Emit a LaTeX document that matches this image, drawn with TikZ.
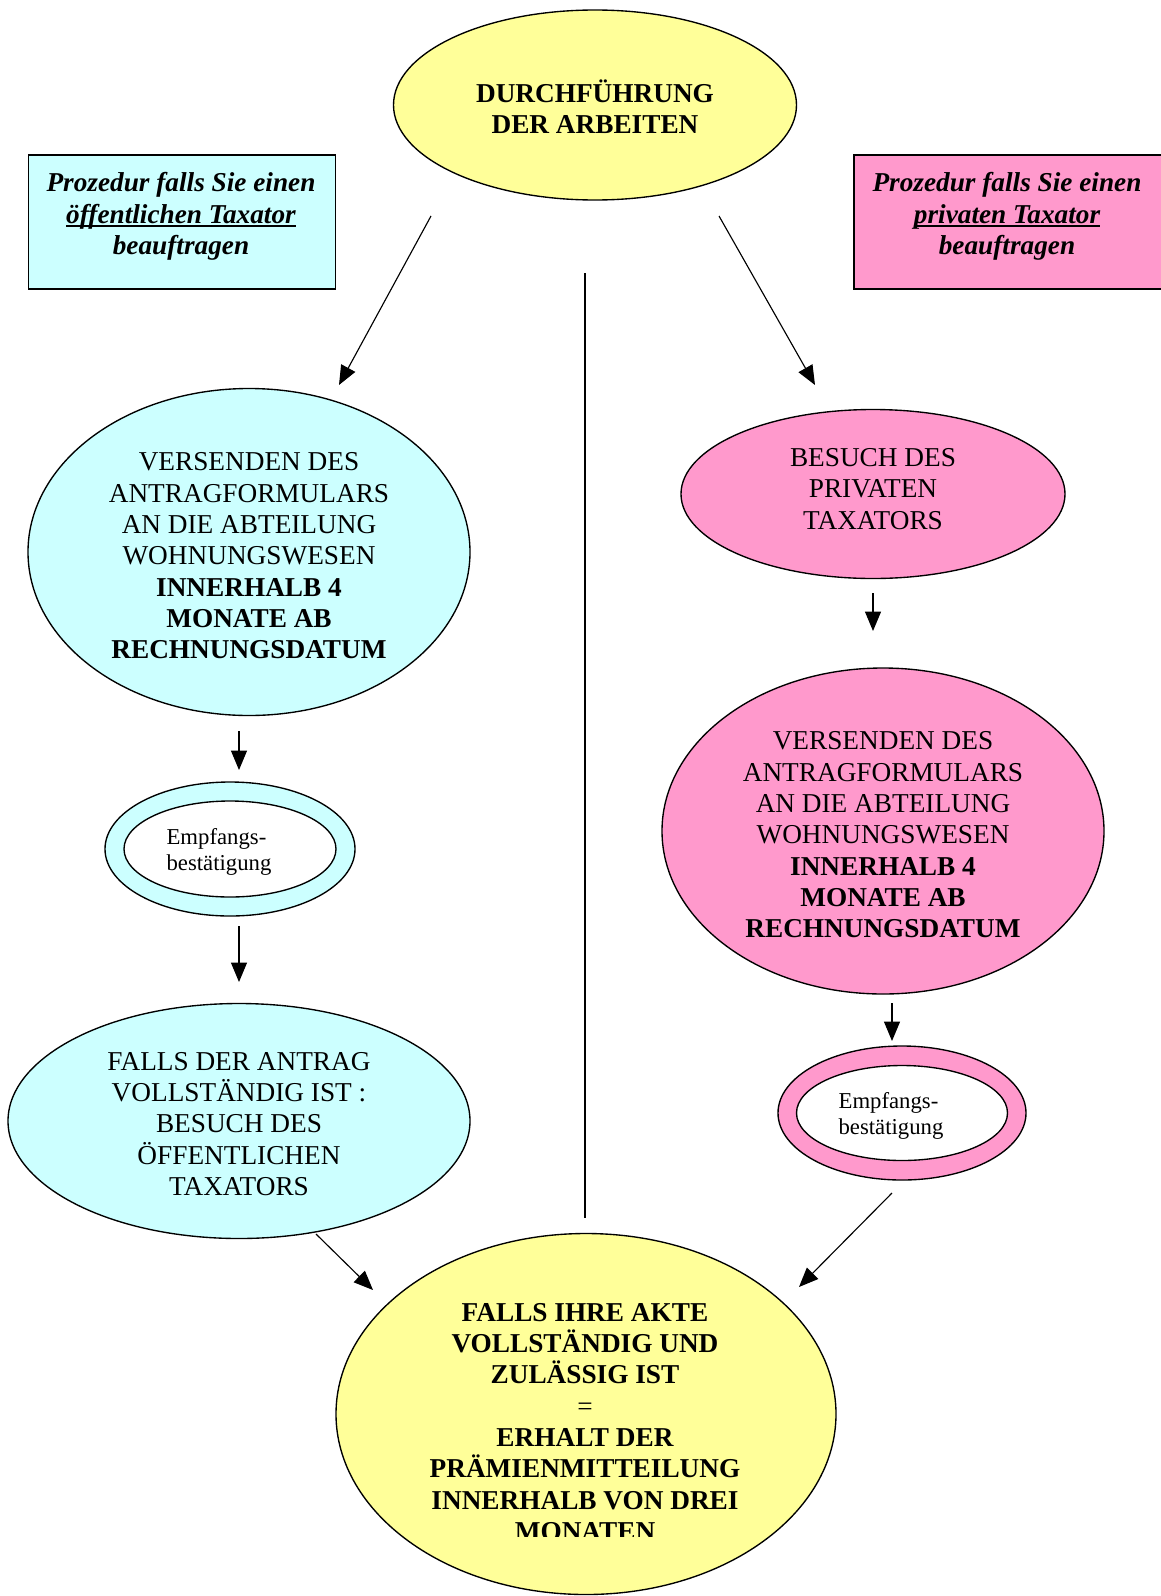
\documentclass[tikz,border=0pt]{standalone}
\usepackage{fontspec}
\setmainfont{Liberation Serif}
\usetikzlibrary{shapes.geometric,arrows.meta}
\definecolor{paleyellow}{HTML}{FFFF99}
\definecolor{palecyan}{HTML}{CCFFFF}
\definecolor{palepink}{HTML}{FF99CC}
% underline close to the baseline
\newcommand\ulin[1]{\setbox0\hbox{#1}\rlap{\rule[-1.5pt]{\wd0}{0.7pt}}\box0}

\begin{document}
\begin{tikzpicture}[x=0.44pt,y=-0.44pt]
% one pixel of the page
\def\px{0.44pt}
% node style definition
\tikzstyle{oval} = [draw, ellipse, line width=0.6pt, inner sep=0pt];
\tikzstyle{frame} = [draw, rectangle, line width=0.6pt, inner sep=0pt];
\tikzstyle{plain} = [draw=none, fill=none, inner sep=0pt, align=center,
	font=\fontsize{12}{13.8}\selectfont];
\tikzstyle{small} = [draw=none, fill=none, inner sep=0pt, align=left,
	font=\fontsize{10}{11.4}\selectfont];
\tikzstyle{arr} = [line width=0.5pt, -{Triangle[length=8.5pt,width=7pt]}];
\tikzset{size/.style 2 args={minimum width=#1*\px, minimum height=#2*\px}}
\useasboundingbox (0,0) rectangle (1160,1596);

% start of the works
\node[oval, fill=paleyellow, size={403}{190}] (arbeiten) at (595,105) {};
\node[plain, font=\fontsize{12}{13.8}\selectfont\bfseries] (arbeiten-text) at (595,107)
	{ DURCHFÜHRUNG\\DER ARBEITEN };

% the two procedures
\node[frame, fill=palecyan, size={307}{134}] (boxL) at (182,222) {};
\node[plain, font=\fontsize{12}{13.8}\selectfont\bfseries\itshape] (boxL-text) at (181,216.5)
	{ Prozedur falls Sie einen\\\ulin{öffentlichen Taxator}\\beauftragen };
\node[frame, fill=palepink, size={308}{134}] (boxR) at (1008,222) {};
\node[plain, font=\fontsize{12}{13.8}\selectfont\bfseries\itshape] (boxR-text) at (1007,216.5)
	{ Prozedur falls Sie einen\\\ulin{privaten Taxator}\\beauftragen };

% left branch: public taxator
\node[oval, fill=palecyan, size={442}{327}] (antragL) at (249,552) {};
\node[plain] (antragL-text) at (249,556)
	{ VERSENDEN DES\\ANTRAGFORMULARS\\AN DIE ABTEILUNG\\WOHNUNGSWESEN\\
	\textbf{INNERHALB 4}\\\textbf{MONATE AB}\\\textbf{RECHNUNGSDATUM} };
\node[oval, fill=palecyan, size={250}{134}] (empfL) at (230,849) {};
\node[oval, fill=white, size={212}{96}] (empfL-in) at (230,849) {};
\node[small] (empfL-text) at (219,851.5) { Empfangs-\\bestätigung };
\node[oval, fill=palecyan, size={462}{235}] (besuchL) at (239,1121) {};
\node[plain] (besuchL-text) at (239,1124)
	{ FALLS DER ANTRAG\\VOLLSTÄNDIG IST :\\BESUCH DES\\ÖFFENTLICHEN\\TAXATORS };

% right branch: private taxator
\node[oval, fill=palepink, size={384}{169}] (besuchR) at (873,494) {};
\node[plain] (besuchR-text) at (873,489) { BESUCH DES\\PRIVATEN\\TAXATORS };
\node[oval, fill=palepink, size={442}{326}] (antragR) at (883,831) {};
\node[plain] (antragR-text) at (883,835)
	{ VERSENDEN DES\\ANTRAGFORMULARS\\AN DIE ABTEILUNG\\WOHNUNGSWESEN\\
	\textbf{INNERHALB 4}\\\textbf{MONATE AB}\\\textbf{RECHNUNGSDATUM} };
\node[oval, fill=palepink, size={248}{134}] (empfR) at (902,1113) {};
\node[oval, fill=white, size={211}{95}] (empfR-in) at (902,1113) {};
\node[small] (empfR-text) at (891,1115.5) { Empfangs-\\bestätigung };

% result
\node[oval, fill=paleyellow, size={500}{361}] (praemie) at (586,1414) {};
\begin{scope}
\clip (336,1240) rectangle (836,1536);
\node[plain, font=\fontsize{12}{13.8}\selectfont\bfseries] (praemie-text) at (585,1422)
	{ FALLS IHRE AKTE\\VOLLSTÄNDIG UND\\ZULÄSSIG IST\\\textmd{=}\\ERHALT DER\\
	PRÄMIENMITTEILUNG\\INNERHALB VON DREI\\MONATEN };
\end{scope}

% connector ends
\coordinate (a1s) at (431,216);  \coordinate (a1e) at (339,385);
\coordinate (a2s) at (719,216);  \coordinate (a2e) at (815,385);
\coordinate (mids) at (585,273); \coordinate (mide) at (585,1218);
\coordinate (a3s) at (239,731);  \coordinate (a3e) at (239,770);
\coordinate (a4s) at (239,926);  \coordinate (a4e) at (239,982);
\coordinate (a5s) at (316,1234); \coordinate (a5e) at (373,1290);
\coordinate (a6s) at (873,593);  \coordinate (a6e) at (873,631);
\coordinate (a7s) at (892,1003); \coordinate (a7e) at (892,1041);
\coordinate (a8s) at (892,1193); \coordinate (a8e) at (799,1287);

% connectors
\draw[arr] (a1s) -- (a1e);
\draw[arr] (a2s) -- (a2e);
\draw[line width=0.5pt] (mids) -- (mide);
\draw[arr] (a3s) -- (a3e);
\draw[arr] (a4s) -- (a4e);
\draw[arr] (a5s) -- (a5e);
\draw[arr] (a6s) -- (a6e);
\draw[arr] (a7s) -- (a7e);
\draw[arr] (a8s) -- (a8e);

\end{tikzpicture}
\end{document}
